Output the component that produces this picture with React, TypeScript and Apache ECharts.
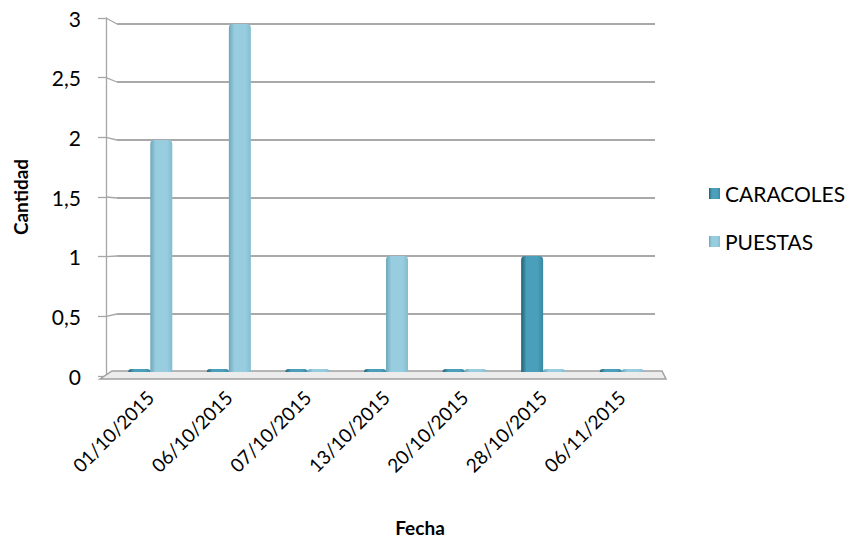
import React, { useEffect, useRef } from "react";
import * as echarts from "echarts";

const categories = ["01/10/2015", "06/10/2015", "07/10/2015", "13/10/2015", "20/10/2015", "28/10/2015", "06/11/2015"];
const caracoles = [0, 0, 0, 0, 0, 1, 0];
const puestas = [2, 3, 0, 1, 0, 0, 0];
const yTicks = [0, 0.5, 1, 1.5, 2, 2.5, 3];

const FONT = "Lato";

export default function App() {
  const ref = useRef<HTMLDivElement>(null);
  useEffect(() => {
    if (!ref.current) return;
    const chart = echarts.init(ref.current, null, { renderer: "svg" });
    const axisTop = 18, axisH = 358, axisX = 106;
    const gridTop = 24, gridH = 348, gridL = 117, gridR = 655;
    const yMax = yTicks[yTicks.length - 1];
    const connectors = yTicks.map((v) => {
      const y1 = axisTop + ((yMax - v) / yMax) * axisH;
      const y2 = gridTop + ((yMax - v) / yMax) * gridH;
      return {
        type: "line",
        silent: true,
        shape: { x1: axisX, y1, x2: gridL, y2 },
        style: { stroke: "#a6a6a6", lineWidth: 1.3 },
      };
    });
    const grad = (a: string, b: string, c: string) =>
      new echarts.graphic.LinearGradient(0, 0, 1, 0, [
        { offset: 0, color: a },
        { offset: 0.25, color: b },
        { offset: 0.75, color: b },
        { offset: 1, color: c },
      ]);
    chart.setOption({
      animation: false,
      grid: [
        { left: axisX, top: axisTop, width: 1, height: axisH },
        { left: gridL, top: gridTop, width: gridR - gridL, height: gridH },
        { left: 111, top: gridTop, width: 550, height: gridH },
      ],
      legend: {
        orient: "vertical",
        left: 704,
        top: 178,
        itemGap: 27,
        itemWidth: 11,
        itemHeight: 11,
        icon: "rect",
        textStyle: { fontFamily: FONT, fontSize: 21, color: "#000" },
        data: ["CARACOLES", "PUESTAS"],
      },
      xAxis: [
        { gridIndex: 0, type: "value", show: false },
        { gridIndex: 1, type: "category", data: categories, show: false },
        {
          gridIndex: 2,
          type: "category",
          data: categories,
          axisLine: { show: false },
          axisTick: { show: false },
          axisLabel: { rotate: 45, margin: 22, fontFamily: FONT, fontSize: 19, color: "#000" },
        },
      ],
      yAxis: [
        {
          gridIndex: 0,
          type: "value",
          min: 0,
          max: 3,
          interval: 0.5,
          axisLine: { show: true, lineStyle: { color: "#a6a6a6", width: 1.3 } },
          axisTick: { show: true, length: 8, lineStyle: { color: "#a6a6a6", width: 1.3 } },
          splitLine: { show: false },
          axisLabel: {
            margin: 25,
            fontFamily: FONT,
            fontSize: 21,
            color: "#000",
            formatter: (v: number) => String(v).replace(".", ","),
          },
          name: "Cantidad",
          nameLocation: "middle",
          nameGap: 76,
          nameRotate: 90,
          nameTextStyle: { fontFamily: FONT, fontSize: 19, fontWeight: "bold", color: "#000" },
        },
        {
          gridIndex: 1,
          type: "value",
          min: 0,
          max: 3,
          interval: 0.5,
          axisLine: { show: false },
          axisTick: { show: false },
          axisLabel: { show: false },
          splitLine: { show: true, lineStyle: { color: "#8c8c8c", width: 1.5 } },
        },
        { gridIndex: 2, type: "value", min: 0, max: 3, show: false },
      ],
      graphic: [
        ...connectors,
        {
          type: "polygon",
          silent: true,
          z: 1,
          shape: { points: [[100, 379], [112, 371], [662, 371], [666, 379]] },
          style: { fill: "#ececec", stroke: "#a0a0a0", lineWidth: 1.5 },
        },
        {
          type: "text",
          x: 420,
          y: 527,
          style: {
            text: "Fecha",
            align: "center",
            verticalAlign: "middle",
            fontFamily: FONT,
            fontSize: 19,
            fontWeight: "bold",
            fill: "#000",
          },
        },
      ],
      series: [
        {
          name: "CARACOLES",
          type: "bar",
          xAxisIndex: 2,
          yAxisIndex: 2,
          data: caracoles,
          barWidth: 22,
          barGap: "0%",
          barMinHeight: 3,
          z: 5,
          itemStyle: { color: grad("#245f73", "#4aa0ba", "#3b87a0"), borderRadius: [4, 4, 0, 0] },
        },
        {
          name: "PUESTAS",
          type: "bar",
          xAxisIndex: 2,
          yAxisIndex: 2,
          data: puestas,
          barWidth: 22,
          barGap: "0%",
          barMinHeight: 3,
          z: 5,
          itemStyle: { color: grad("#6ea7ba", "#98cde0", "#84bccf"), borderRadius: [4, 4, 0, 0] },
        },
      ],
    });
    return () => chart.dispose();
  }, []);
  return <div ref={ref} style={{ width: 854, height: 545, margin: -8 }} />;
}
